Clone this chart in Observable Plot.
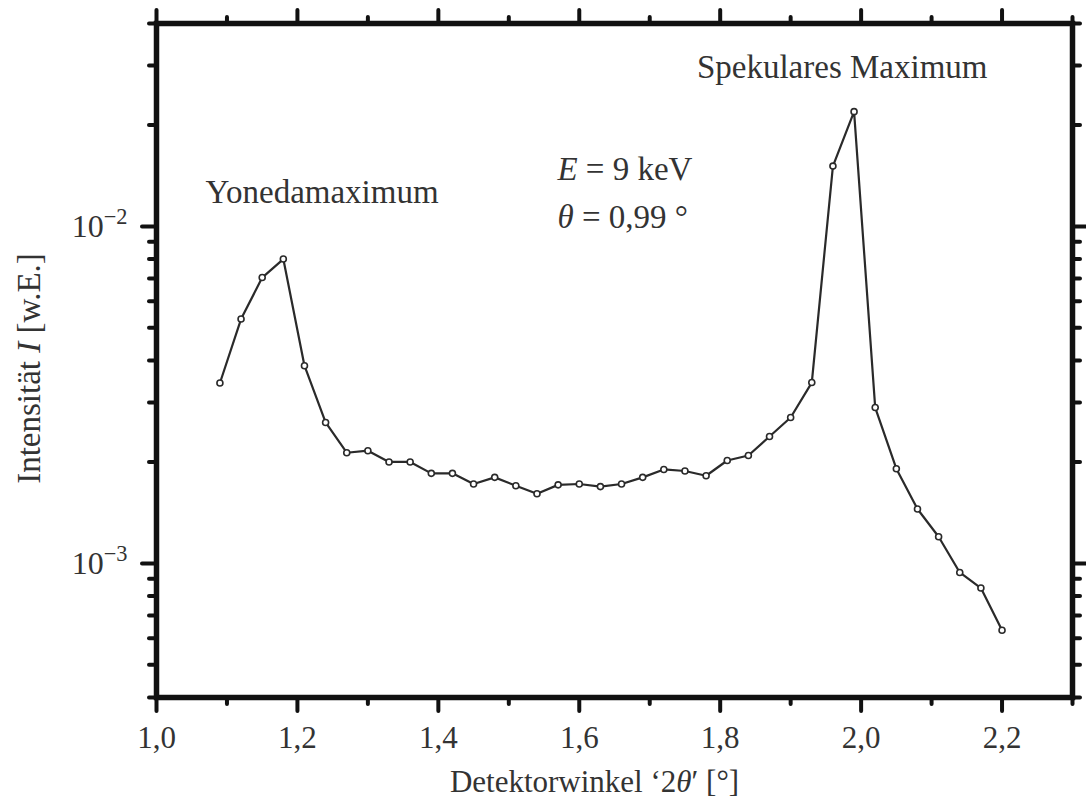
<!DOCTYPE html>
<html><head><meta charset="utf-8">
<script src="https://cdn.jsdelivr.net/npm/d3@7"></script>
<script src="https://cdn.jsdelivr.net/npm/@observablehq/plot@0.6"></script>
<style>body{margin:0;background:#fff}</style>
</head><body><div id="chart"></div>
<script>
// Detector angle 2θ' [°]
const angle = [1.09,1.12,1.15,1.18,1.21,1.24,1.27,1.30,1.33,1.36,1.39,1.42,1.45,1.48,1.51,1.54,1.57,1.60,1.63,1.66,1.69,1.72,1.75,1.78,1.81,1.84,1.87,1.90,1.93,1.96,1.99,2.02,2.05,2.08,2.11,2.14,2.17,2.20];
// Intensity I [w.E.]
const intensity = [3.43e-3,5.31e-3,7.05e-3,8.0e-3,3.86e-3,2.62e-3,2.13e-3,2.16e-3,2.00e-3,2.00e-3,1.85e-3,1.85e-3,1.72e-3,1.80e-3,1.70e-3,1.61e-3,1.71e-3,1.72e-3,1.69e-3,1.72e-3,1.80e-3,1.90e-3,1.88e-3,1.82e-3,2.02e-3,2.09e-3,2.38e-3,2.71e-3,3.44e-3,1.51e-2,2.19e-2,2.90e-3,1.91e-3,1.45e-3,1.20e-3,9.4e-4,8.45e-4,6.33e-4];

const xMajorTicks = [1.0,1.2,1.4,1.6,1.8,2.0,2.2];
const xMinorTicks = [1.1,1.3,1.5,1.7,1.9,2.1,2.3];
const yMajorTicks = [1e-3,1e-2];
const yMajorLabels = ["10|−3","10|−2"];
const yMinorTicks = [4e-4,5e-4,6e-4,7e-4,8e-4,9e-4,2e-3,3e-3,4e-3,5e-3,6e-3,7e-3,8e-3,9e-3,2e-2,3e-2,4e-2];

const annotations = [
  {x:1.0695, y:0.0126, text:"Yonedamaximum"},
  {x:1.767, y:0.0296, text:"Spekulares Maximum"},
  {x:1.569, y:0.01475, text:"E = 9 keV"},
  {x:1.569, y:0.0106, text:"θ = 0,99 °"}
];
const xTitle = "Detektorwinkel ‘2θ′ [°]";
const yTitle = "Intensität I [w.E.]";

const data = angle.map((x,i)=>({x, y:intensity[i]}));
const fmtX = d => d.toFixed(1).replace(".", ",");
const fmtY = d => yMajorLabels[yMajorTicks.indexOf(d)];
const tk = {stroke:"#111", strokeWidth:4, strokeLinecap:"round", label:null};

const chart = Plot.plot({
  width:1086, height:809,
  marginLeft:156, marginRight:14, marginTop:23, marginBottom:112,
  style:{fontFamily:"'Liberation Serif', serif", fontSize:"30px", color:"#333", background:"#fff"},
  x:{domain:[1.0,2.3], label:null},
  y:{type:"log", domain:[4e-4,4e-2], label:null},
  marks:[
    Plot.axisX({anchor:"bottom", ticks:xMajorTicks, tickSize:14, tickPadding:14, tickFormat:fmtX, fontSize:31, fill:"#333", ...tk}),
    Plot.axisX({anchor:"bottom", ticks:xMinorTicks, tickSize:7, fill:"none", ...tk}),
    Plot.axisX({anchor:"top", ticks:xMajorTicks, tickSize:14, fill:"none", ...tk}),
    Plot.axisX({anchor:"top", ticks:xMinorTicks, tickSize:7, fill:"none", ...tk}),
    Plot.axisY({anchor:"left", ticks:yMajorTicks, tickSize:14, tickPadding:15, tickFormat:fmtY, fontSize:32, fill:"#333", ...tk}),
    Plot.axisY({anchor:"left", ticks:yMinorTicks, tickSize:7, fill:"none", ...tk}),
    Plot.axisY({anchor:"right", ticks:yMajorTicks, tickSize:14, fill:"none", ...tk}),
    Plot.axisY({anchor:"right", ticks:yMinorTicks, tickSize:7, fill:"none", ...tk}),
    Plot.frame({stroke:"#111", strokeWidth:5.5}),
    Plot.line(data, {x:"x", y:"y", stroke:"#2a2a2a", strokeWidth:2.2}),
    Plot.dot(data, {x:"x", y:"y", r:3, stroke:"#2a2a2a", strokeWidth:1.6, fill:"white"}),
    Plot.text(annotations, {x:"x", y:"y", text:"text", textAnchor:"start", lineAnchor:"middle", fontSize:33, fill:"#333"}),
    Plot.text([xTitle], {frameAnchor:"bottom", dx:-20, dy:85, lineAnchor:"middle", textAnchor:"middle", fontSize:31, fill:"#333"}),
    Plot.text([yTitle], {frameAnchor:"left", dx:-127, dy:8, rotate:-90, lineAnchor:"middle", textAnchor:"middle", fontSize:33, fill:"#333"})
  ]
});
document.getElementById("chart").appendChild(chart);

// rich text: italics and superscripts
const svg = d3.select(chart);
function rich(sel, parts){
  sel.text(null);
  parts.forEach(p=>{
    const t = sel.append("tspan").text(p.t);
    if (p.i) t.attr("font-style","italic");
    if (p.sup) t.attr("font-size","0.7em").attr("dy","-0.57em");
  });
}
svg.selectAll("text").each(function(){
  const s = d3.select(this);
  const c = this.textContent;
  if (c.includes("|")) {
    const [a,b] = c.split("|");
    rich(s,[{t:a},{t:b,sup:true}]);
  } else if (c === "E = 9 keV") {
    rich(s,[{t:"E",i:true},{t:" = 9 keV"}]);
  } else if (c === "θ = 0,99 °") {
    rich(s,[{t:"θ",i:true},{t:" = 0,99 °"}]);
  } else if (c === yTitle) {
    rich(s,[{t:"Intensität "},{t:"I",i:true},{t:" [w.E.]"}]);
  } else if (c === xTitle) {
    rich(s,[{t:"Detektorwinkel ‘2"},{t:"θ",i:true},{t:"′ [°]"}]);
  }
});
</script>
</body></html>
